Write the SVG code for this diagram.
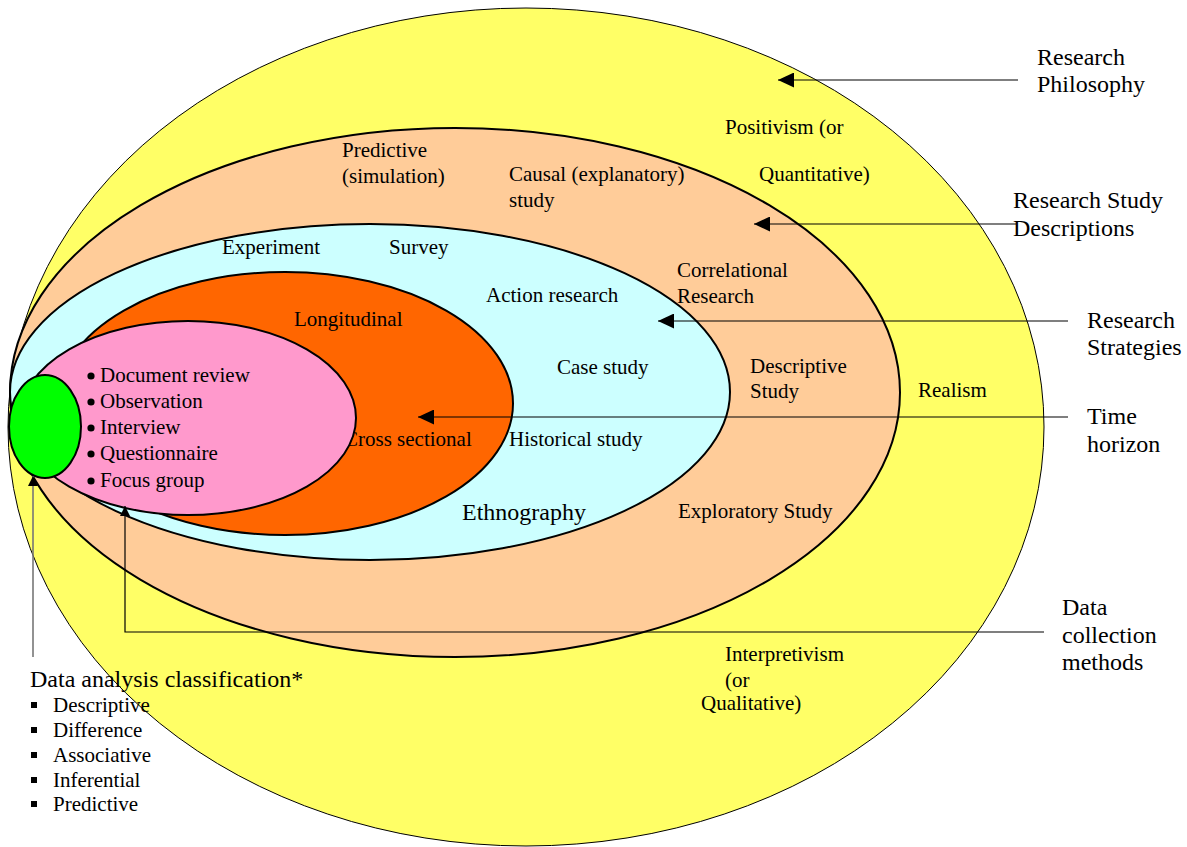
<svg xmlns="http://www.w3.org/2000/svg" width="1187" height="847" viewBox="0 0 1187 847">
<defs>
<style>
text{font-family:"Liberation Serif","Times New Roman",serif;fill:#000}
.s{font-size:21px}
.l{font-size:24px}
.ring{stroke:#000;stroke-width:2}
.con{stroke:#000;stroke-width:1.2;fill:none}
</style>
<marker id="ah" markerWidth="16" markerHeight="15" refX="16" refY="7.5" orient="auto" markerUnits="userSpaceOnUse">
<path d="M0,0 L16,7.5 L0,15 Z" fill="#000"/>
</marker>
<marker id="ahs" markerWidth="10" markerHeight="10" refX="10" refY="5" orient="auto" markerUnits="userSpaceOnUse">
<path d="M0,0 L10,5 L0,10 Z" fill="#000"/>
</marker>
</defs>
<rect width="1187" height="847" fill="#fff"/>

<g id="philosophy">
<ellipse cx="526" cy="427" rx="518" ry="419" fill="#FFFF66" stroke="#000" stroke-width="1"/>
<text class="s" x="725" y="134">Positivism (or</text>
<text class="s" x="759" y="181">Quantitative)</text>
<text class="s" x="918" y="397">Realism</text>
<text class="s" x="725" y="661">Interpretivism</text>
<text class="s" x="725" y="687">(or</text>
<text class="s" x="701" y="710">Qualitative)</text>
</g>

<g id="study-descriptions">
<ellipse class="ring" cx="455" cy="392.5" rx="445" ry="264.5" fill="#FFCC99"/>
<text class="s" x="342" y="157">Predictive</text>
<text class="s" x="342" y="183">(simulation)</text>
<text class="s" x="509" y="181">Causal (explanatory)</text>
<text class="s" x="509" y="207">study</text>
<text class="s" x="677" y="277">Correlational</text>
<text class="s" x="677" y="303">Research</text>
<text class="s" x="750" y="373">Descriptive</text>
<text class="s" x="750" y="398">Study</text>
<text class="s" x="678" y="518">Exploratory Study</text>
</g>

<g id="strategies">
<ellipse class="ring" cx="370" cy="392" rx="360" ry="168" fill="#CCFFFF"/>
<text class="s" x="222" y="254">Experiment</text>
<text class="s" x="389" y="254">Survey</text>
<text class="s" x="486" y="302">Action research</text>
<text class="s" x="557" y="374">Case study</text>
<text class="s" x="509" y="446">Historical study</text>
<text class="l" x="462" y="520">Ethnography</text>
</g>

<g id="time-horizon">
<ellipse class="ring" cx="285" cy="403.5" rx="228" ry="131.5" fill="#FF6600"/>
<text class="s" x="294" y="326">Longitudinal</text>
<text class="s" x="344" y="446">Cross sectional</text>
</g>

<g id="data-collection">
<ellipse class="ring" cx="188" cy="418" rx="168" ry="97" fill="#FF99CC"/>
<circle cx="91" cy="376" r="3.6"/>
<circle cx="91" cy="402" r="3.6"/>
<circle cx="91" cy="428" r="3.6"/>
<circle cx="91" cy="454" r="3.6"/>
<circle cx="91" cy="481" r="3.6"/>
<text class="s" x="100" y="382">Document review</text>
<text class="s" x="100" y="408">Observation</text>
<text class="s" x="100" y="434">Interview</text>
<text class="s" x="100" y="460">Questionnaire</text>
<text class="s" x="100" y="487">Focus group</text>
</g>

<g id="data-analysis">
<ellipse class="ring" cx="45" cy="426.5" rx="36" ry="51.5" fill="#00FF00"/>
</g>

<g id="connectors">
<line class="con" x1="1018" y1="80" x2="778" y2="80" marker-end="url(#ah)"/>
<line class="con" x1="1016" y1="224" x2="754" y2="224" marker-end="url(#ah)"/>
<line class="con" x1="1068" y1="321" x2="658" y2="321" marker-end="url(#ah)"/>
<line class="con" x1="1068" y1="417" x2="418" y2="417" marker-end="url(#ah)"/>
<polyline class="con" points="1044,632 125,632 125,506" marker-end="url(#ahs)"/>
<line x1="33" y1="657" x2="33" y2="476" stroke="#777" stroke-width="1.6" marker-end="url(#ahs)"/>
</g>

<g id="labels">
<text class="l" x="1037" y="65">Research</text>
<text class="l" x="1037" y="92">Philosophy</text>
<text class="l" x="1013" y="208">Research Study</text>
<text class="l" x="1013" y="236">Descriptions</text>
<text class="l" x="1087" y="328">Research</text>
<text class="l" x="1087" y="355">Strategies</text>
<text class="l" x="1087" y="424">Time</text>
<text class="l" x="1087" y="452">horizon</text>
<text class="l" x="1062" y="615">Data</text>
<text class="l" x="1062" y="643">collection</text>
<text class="l" x="1062" y="670">methods</text>
</g>

<g id="analysis-list">
<text class="l" x="30" y="687">Data analysis classification*</text>
<rect x="31" y="702" width="6" height="6"/>
<rect x="31" y="727" width="6" height="6"/>
<rect x="31" y="752" width="6" height="6"/>
<rect x="31" y="777" width="6" height="6"/>
<rect x="31" y="801" width="6" height="6"/>
<text class="s" x="53" y="712">Descriptive</text>
<text class="s" x="53" y="737">Difference</text>
<text class="s" x="53" y="762">Associative</text>
<text class="s" x="53" y="787">Inferential</text>
<text class="s" x="53" y="811">Predictive</text>
</g>
</svg>
